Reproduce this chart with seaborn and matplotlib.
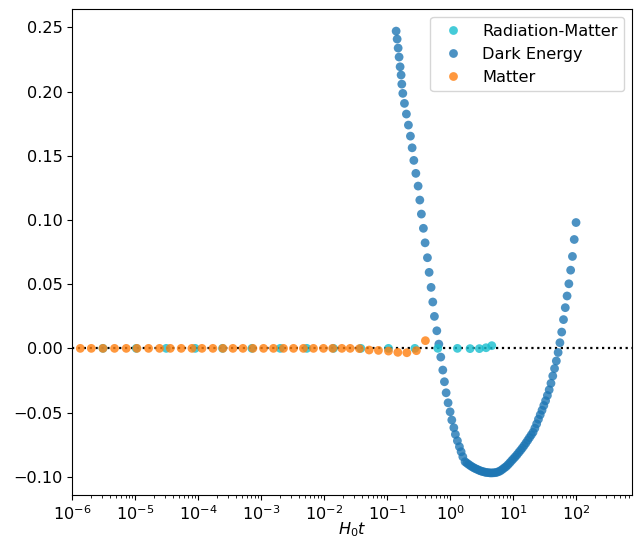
import numpy as np
import pandas as pd
import seaborn as sns
import matplotlib.pyplot as plt

# values
de_t = [0.1390, 0.1442, 0.1496, 0.1549, 0.1607, 0.1667, 0.1710, 0.1774, 0.1884, 0.2023,
        0.2178, 0.2344, 0.2495, 0.2655, 0.2858, 0.3105, 0.3304, 0.3499, 0.3767, 0.4009,
        0.4365, 0.4645, 0.4989, 0.5309, 0.5636, 0.6152, 0.6622, 0.7112, 0.7656, 0.8128,
        0.8650, 0.9290, 1.000, 1.064, 1.146, 1.213, 1.306, 1.406, 1.496, 1.592,
        1.730, 1.847, 1.972, 2.105, 2.248, 2.400, 2.562, 2.735, 2.920, 3.117,
        3.328, 3.553, 3.793, 4.050, 4.323, 4.616, 4.928, 5.261, 5.617, 5.996,
        6.402, 6.834, 7.297, 7.790, 8.316, 8.879, 9.479, 10.12, 10.80, 11.53,
        12.31, 13.15, 14.04, 14.99, 16.00, 17.08, 18.23, 19.47, 20.78, 22.19,
        23.69, 25.29, 27.00, 28.83, 30.78, 32.85, 35.08, 37.45, 39.98, 42.69,
        45.57, 48.65, 51.94, 55.46, 59.21, 63.21, 67.48, 72.04, 76.91, 82.11,
        87.68, 93.61, 100.0]
de_val = [0.2471, 0.2409, 0.2339, 0.2269, 0.2193, 0.2129, 0.2058, 0.1986, 0.1908, 0.1825,
          0.1739, 0.1653, 0.1562, 0.1464, 0.1363, 0.1264, 0.1155, 0.1046, 0.0935, 0.0822,
          0.0706, 0.0592, 0.0475, 0.0361, 0.0249, 0.0137, 0.0033, -0.0068, -0.0169, -0.0260,
          -0.0346, -0.0424, -0.0494, -0.0558, -0.0618, -0.0670, -0.0720, -0.0766, -0.0805, -0.0844,
          -0.0883, -0.0894, -0.0904, -0.0914, -0.0923, -0.0931, -0.0938, -0.0944, -0.0951, -0.0956,
          -0.0960, -0.0964, -0.0967, -0.0968, -0.0970, -0.0970, -0.0969, -0.0968, -0.0964, -0.0959,
          -0.0951, -0.0941, -0.0930, -0.0920, -0.0906, -0.0891, -0.0875, -0.0860, -0.0845, -0.0829,
          -0.0811, -0.0794, -0.0776, -0.0757, -0.0737, -0.0716, -0.0695, -0.0674, -0.0653, -0.0622,
          -0.0588, -0.0552, -0.0517, -0.0482, -0.0445, -0.0408, -0.0367, -0.0323, -0.0272, -0.0215,
          -0.0157, -0.0098, -0.0032, 0.0044, 0.0127, 0.0224, 0.0317, 0.0408, 0.0503, 0.0609,
          0.0716, 0.0848, 0.0980]

rm_t = [3.069e-6, 1.038e-5, 3.105e-5, 8.954e-5, 2.432e-4, 7.112e-4, 2.004e-3, 5.309e-3,
        1.406e-2, 3.828e-2, 0.1050, 0.2754, 0.6383, 1.306, 2.075, 2.917, 3.724, 4.592]
rm_val = [0, 0, 0, 0, 0, 0, 0, 0, 0, 0,
          0, 0, 0, 0, -0.0002, -0.0002, 0.0005, 0.0021]

m_t = [1.340e-6, 2.004e-6, 3.069e-6, 4.688e-6, 7.194e-6, 1.064e-5, 1.626e-5, 2.432e-5,
       3.597e-5, 5.370e-5, 7.943e-5, 1.146e-4, 1.710e-4, 2.466e-4, 3.556e-4, 5.129e-4,
       7.379e-4, 1.089e-3, 1.567e-3, 2.259e-3, 3.258e-3, 4.688e-3, 6.761e-3, 9.750e-3,
       1.365e-2, 1.910e-2, 2.588e-2, 3.631e-2, 5.176e-2, 7.278e-2, 0.1050, 0.1479,
       0.2056, 0.2917, 0.4055]
m_val = [0, 0, 0, 0, 0, 0, 0, 0,
         0, 0, 0, 0, 0, 0, 0, 0,
         0, 0, 0, 0, 0, 0, 0, 0,
         0, 0, 0, -0.0002, -0.0013, -0.0016, -0.0021, -0.0031,
         -0.0034, -0.0018, 0.0060]

labels = ["Radiation-Matter", "Dark Energy", "Matter"]
palette = {"Radiation-Matter": "tab:cyan", "Dark Energy": "tab:blue", "Matter": "tab:orange"}
decades = np.arange(-6, 3)

# draw order: dark energy, then radiation-matter, then matter on top
df = pd.concat([
    pd.DataFrame({"t": de_t, "v": de_val, "era": "Dark Energy"}),
    pd.DataFrame({"t": rm_t, "v": rm_val, "era": "Radiation-Matter"}),
    pd.DataFrame({"t": m_t, "v": m_val, "era": "Matter"}),
], ignore_index=True)

plt.rcParams["font.size"] = 11.6

fig = plt.figure(figsize=(6.38, 5.43), dpi=100)
ax = fig.add_axes([0.1133, 0.0884, 0.8773, 0.8950])

sns.scatterplot(data=df, x="t", y="v", hue="era", hue_order=labels, palette=palette,
                alpha=0.8, linewidth=0, s=40, ax=ax)
ax.axhline(0, color="k", ls=":", lw=1.6, zorder=0.5)

ax.set_xscale("log")
ax.set_xticks(10.0 ** decades)
ax.set_xlim(1e-6, 774)
ax.set_xlabel("$H_0t$", labelpad=-2)
ax.set_ylabel("")
sns.move_legend(ax, "upper right", title=None)

fig.savefig("out.png", dpi=100)
